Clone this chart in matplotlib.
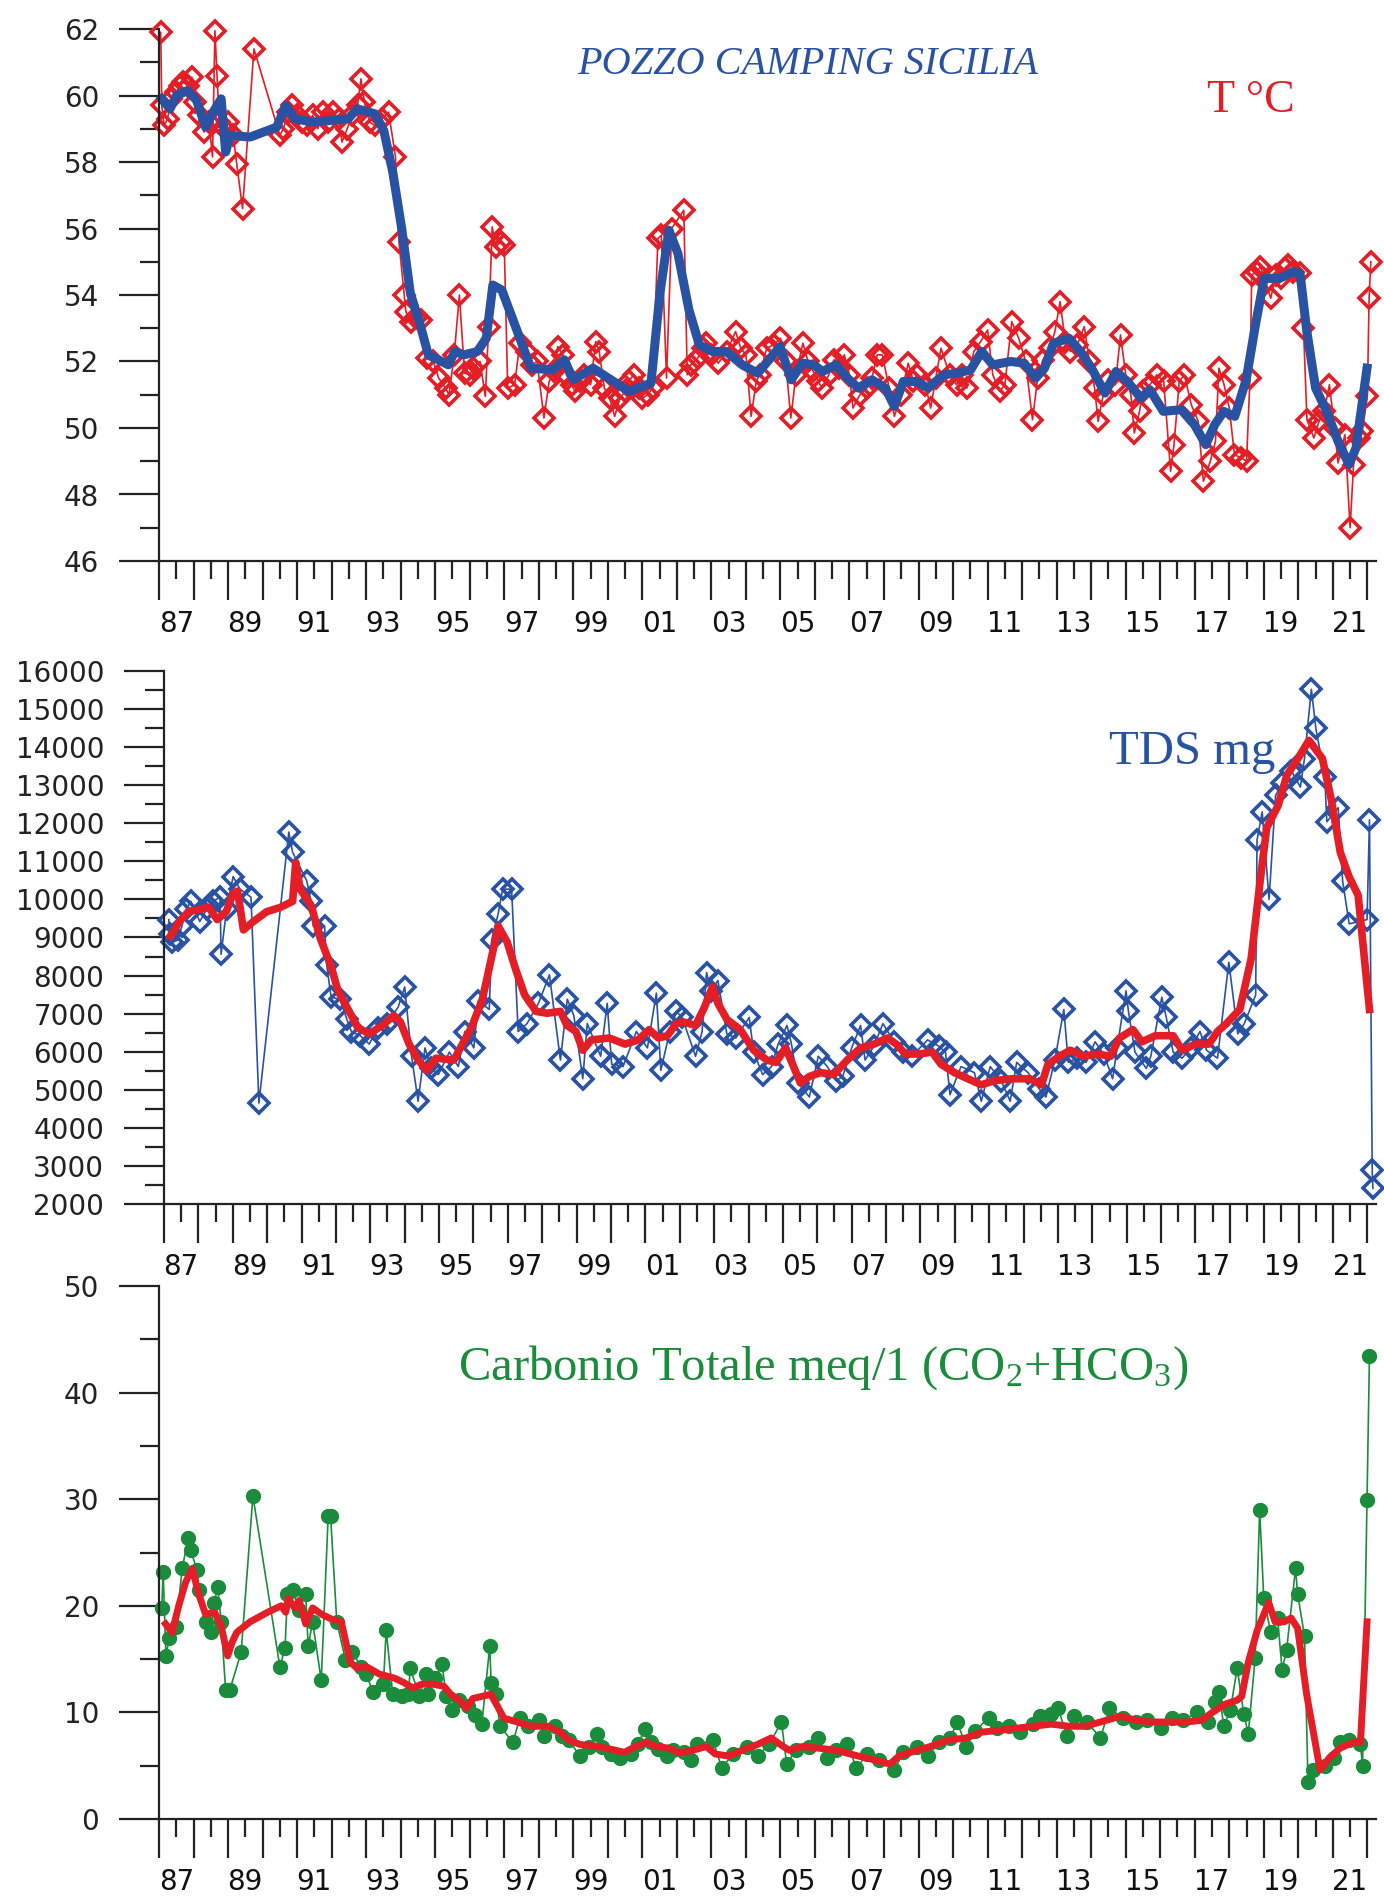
import matplotlib.pyplot as plt
from matplotlib.ticker import MultipleLocator

plt.rcParams['font.family'] = 'DejaVu Sans'
plt.rcParams['mathtext.fontset'] = 'custom'
plt.rcParams['mathtext.rm'] = 'Liberation Serif'
plt.rcParams['mathtext.it'] = 'Liberation Serif:italic'

RED = '#e41e26'
BLUE = '#2a52a3'
GREEN = '#1a8c3c'

# --- Temperatura (T °C) ---
t_years = [1987.05, 1987.08, 1987.15, 1987.25, 1987.35, 1987.5, 1987.6, 1987.7, 1987.83, 1987.95,
           1988.05, 1988.15, 1988.3, 1988.45, 1988.55, 1988.62, 1988.68, 1988.75, 1988.9, 1989.0,
           1989.15, 1989.25, 1989.42, 1989.75, 1990.5, 1990.6, 1990.75, 1990.85, 1991.0, 1991.15,
           1991.3, 1991.45, 1991.6, 1991.75, 1991.9, 1992.05, 1992.2, 1992.3, 1992.45, 1992.6,
           1992.75, 1992.85, 1992.95, 1993.1, 1993.25, 1993.45, 1993.65, 1993.85, 1993.95, 1994.1,
           1994.15, 1994.3, 1994.45, 1994.6, 1994.75, 1994.95, 1995.1, 1995.3, 1995.4, 1995.55,
           1995.7, 1995.85, 1996.0, 1996.1, 1996.3, 1996.45, 1996.55, 1996.65, 1996.75, 1996.9,
           1997.0, 1997.1, 1997.3, 1997.45, 1997.65, 1997.8, 1997.95, 1998.15, 1998.3, 1998.45,
           1998.55, 1998.7, 1998.8, 1998.95, 1999.05, 1999.2, 1999.3, 1999.5, 1999.65, 1999.75,
           1999.9, 2000.05, 2000.2, 2000.35, 2000.5, 2000.6, 2000.75, 2000.9, 2001.0, 2001.15,
           2001.3, 2001.45, 2001.55, 2001.7, 2001.85, 2002.2, 2002.3, 2002.4, 2002.6, 2002.75,
           2002.85, 2003.0, 2003.2, 2003.45, 2003.7, 2003.85, 2004.0, 2004.15, 2004.3, 2004.4,
           2004.6, 2004.8, 2005.0, 2005.15, 2005.3, 2005.45, 2005.65, 2005.8, 2005.95, 2006.1,
           2006.2, 2006.4, 2006.55, 2006.7, 2006.85, 2007.0, 2007.1, 2007.3, 2007.5, 2007.65,
           2007.8, 2007.95, 2008.15, 2008.3, 2008.5, 2008.7, 2008.85, 2008.95, 2009.2, 2009.35,
           2009.5, 2009.65, 2009.9, 2010.1, 2010.25, 2010.4, 2010.6, 2010.8, 2011.0, 2011.15,
           2011.35, 2011.5, 2011.7, 2011.9, 2012.1, 2012.3, 2012.45, 2012.6, 2012.8, 2012.95,
           2013.1, 2013.25, 2013.4, 2013.6, 2013.8, 2013.95, 2014.1, 2014.2, 2014.35, 2014.5,
           2014.7, 2014.85, 2015.0, 2015.15, 2015.25, 2015.4, 2015.5, 2015.7, 2015.9, 2016.1,
           2016.3, 2016.4, 2016.55, 2016.7, 2016.9, 2017.1, 2017.25, 2017.45, 2017.6, 2017.7,
           2017.85, 2018.0, 2018.15, 2018.35, 2018.5, 2018.6, 2018.65, 2018.8, 2018.9, 2019.05,
           2019.2, 2019.35, 2019.5, 2019.6, 2019.7, 2019.85, 2020.05, 2020.15, 2020.25, 2020.45,
           2020.6, 2020.75, 2020.9, 2021.05, 2021.15, 2021.35, 2021.5, 2021.6, 2021.75, 2021.85,
           2022.0, 2022.05, 2022.1]
t_vals = [61.9, 59.7, 59.1, 59.3, 59.9, 60.1, 60.3, 60.4, 60.3, 60.55,
          59.8, 59.4, 58.9, 59.2, 58.15, 61.95, 60.6, 59.2, 59.0, 59.2,
          58.8, 57.95, 56.6, 61.4, 58.8, 59.0, 59.5, 59.7, 59.4, 59.2,
          59.1, 59.4, 59.0, 59.5, 59.2, 59.5, 59.3, 58.6, 59.0, 59.4,
          59.7, 60.5, 59.8, 59.2, 59.1, 59.3, 59.5, 58.15, 55.6, 54.0,
          53.5, 53.2, 53.3, 53.25, 52.1, 52.0, 51.5, 51.2, 51.0, 52.2,
          54.0, 51.65, 51.6, 51.8, 52.0, 50.95, 53.05, 56.05, 55.45, 55.6,
          55.5, 51.2, 51.3, 52.55, 52.3, 51.9, 52.0, 50.3, 51.4, 51.7,
          52.45, 52.2, 51.6, 51.3, 51.1, 51.4, 51.6, 51.3, 52.6, 52.3,
          51.2, 50.9, 50.35, 50.9, 51.1, 51.4, 51.6, 51.2, 50.9, 51.0,
          51.2, 55.7, 55.8, 51.5, 56.0, 56.55, 51.6, 51.9, 52.1, 52.4,
          52.55, 52.2, 51.95, 52.3, 52.9, 52.4, 52.2, 50.35, 51.4, 51.6,
          52.4, 52.5, 52.7, 52.0, 50.3, 51.6, 52.55, 52.0, 51.7, 51.4,
          51.2, 51.6, 52.05, 51.8, 52.2, 51.6, 50.6, 51.0, 51.2, 51.5,
          52.2, 52.2, 51.2, 50.35, 51.0, 51.95, 51.4, 51.6, 51.3, 50.6,
          51.5, 52.4, 51.6, 51.3, 51.6, 51.2, 52.3, 52.6, 52.95, 51.6,
          51.1, 51.3, 53.2, 52.7, 52.0, 50.25, 51.5, 52.05, 52.4, 52.9,
          53.8, 52.6, 52.3, 52.5, 53.05, 52.0, 51.2, 50.2, 51.0, 51.45,
          51.3, 52.8, 51.6, 51.0, 49.85, 50.5, 51.1, 51.3, 51.6, 51.4,
          48.7, 49.5, 51.4, 51.6, 50.7, 50.2, 48.4, 49.0, 49.6, 51.8,
          51.3, 50.6, 49.2, 49.1, 49.0, 51.5, 54.6, 54.7, 54.85, 54.4,
          53.9, 54.6, 54.5, 54.8, 54.9, 54.7, 54.65, 53.0, 50.25, 49.7,
          50.2, 50.5, 51.3, 50.0, 48.95, 49.8, 47.0, 48.9, 49.7, 49.9,
          50.95, 53.9, 55.0]

t_smooth_years = [1987.08, 1987.32, 1987.51, 1987.83, 1988.09, 1988.35, 1988.54, 1988.8, 1988.93, 1989.06,
                  1989.64, 1990.41, 1990.67, 1990.93, 1991.45, 1992.48, 1992.74, 1993.25, 1993.51, 1993.77,
                  1994.03, 1994.28, 1994.54, 1994.8, 1995.38, 1995.57, 1995.83, 1996.22, 1996.48, 1996.67,
                  1996.93, 1997.38, 1997.77, 1998.41, 1998.74, 1999.0, 1999.57, 2000.09, 2000.61, 2001.25,
                  2001.51, 2001.77, 2002.03, 2002.35, 2002.65, 2003.04, 2003.43, 2003.89, 2004.34, 2004.67,
                  2004.99, 2005.31, 2005.64, 2005.96, 2006.22, 2006.61, 2006.94, 2007.26, 2007.65, 2008.04,
                  2008.3, 2008.56, 2008.95, 2009.27, 2009.73, 2010.12, 2010.51, 2010.83, 2011.15, 2011.67,
                  2012.06, 2012.39, 2012.65, 2012.91, 2013.36, 2013.69, 2014.01, 2014.4, 2014.72, 2015.05,
                  2015.44, 2015.7, 2016.09, 2016.61, 2016.99, 2017.32, 2017.58, 2017.84, 2018.16, 2018.49,
                  2018.75, 2019.01, 2019.46, 2019.85, 2020.05, 2020.24, 2020.5, 2020.82, 2021.15, 2021.47,
                  2021.67, 2021.99]
t_smooth_vals = [59.9, 59.6, 60.0, 60.15, 59.85, 59.05, 59.45, 59.9, 58.3, 58.8,
                 58.75, 59.05, 59.7, 59.3, 59.2, 59.3, 59.6, 59.45, 58.95, 57.7,
                 56.0, 54.05, 53.2, 52.2, 51.9, 52.3, 52.2, 52.3, 52.7, 54.3,
                 54.15, 52.9, 51.8, 51.75, 52.05, 51.45, 51.8, 51.45, 51.1, 51.35,
                 54.05, 55.95, 55.25, 53.55, 52.5, 52.3, 52.3, 51.9, 51.65, 52.05,
                 52.45, 51.45, 51.95, 51.9, 51.7, 51.9, 51.5, 51.2, 51.45, 51.2,
                 50.65, 51.4, 51.4, 51.2, 51.6, 51.65, 51.75, 52.3, 51.9, 52.0,
                 51.95, 51.5, 51.8, 52.55, 52.7, 52.3, 51.8, 51.05, 51.7, 51.4,
                 50.9, 51.15, 50.5, 50.55, 50.1, 49.5, 50.1, 50.5, 50.35, 51.45,
                 53.05, 54.5, 54.5, 54.7, 54.65, 52.95, 51.2, 50.5, 49.6, 48.9,
                 49.4, 51.8]

# --- TDS mg/l ---
tds_years = [1987.14, 1987.16, 1987.24, 1987.4, 1987.52, 1987.65, 1987.78, 1988.04, 1988.24, 1988.43,
             1988.63, 1988.66, 1988.82, 1989.01, 1989.21, 1989.53, 1989.76, 1990.63, 1990.74, 1991.15,
             1991.28, 1991.34, 1991.67, 1991.73, 1991.86, 1992.12, 1992.32, 1992.45, 1992.71, 1992.97,
             1993.22, 1993.48, 1993.81, 1994.0, 1994.2, 1994.39, 1994.59, 1994.78, 1994.98, 1995.3,
             1995.56, 1995.75, 1996.01, 1996.14, 1996.46, 1996.53, 1996.72, 1996.85, 1997.11, 1997.3,
             1997.56, 1997.89, 1998.21, 1998.53, 1998.73, 1998.92, 1999.18, 1999.31, 1999.7, 1999.89,
             2000.02, 2000.35, 2000.74, 2001.06, 2001.32, 2001.45, 2001.71, 2001.9, 2002.07, 2002.46,
             2002.65, 2002.78, 2002.91, 2003.11, 2003.37, 2003.63, 2004.02, 2004.15, 2004.41, 2004.67,
             2004.86, 2005.12, 2005.25, 2005.44, 2005.77, 2006.03, 2006.29, 2006.55, 2006.74, 2007.0,
             2007.26, 2007.39, 2007.65, 2007.91, 2008.23, 2008.49, 2008.75, 2009.21, 2009.53, 2009.73,
             2009.86, 2010.18, 2010.57, 2010.77, 2011.03, 2011.35, 2011.61, 2011.8, 2012.13, 2012.45,
             2012.65, 2012.91, 2013.17, 2013.3, 2013.56, 2013.82, 2014.08, 2014.33, 2014.59, 2014.72,
             2014.98, 2015.05, 2015.24, 2015.57, 2015.7, 2016.02, 2016.15, 2016.35, 2016.61, 2016.87,
             2017.13, 2017.32, 2017.64, 2017.97, 2018.23, 2018.42, 2018.75, 2018.79, 2018.94, 2019.14,
             2019.33, 2019.53, 2019.79, 2020.05, 2020.17, 2020.37, 2020.5, 2020.76, 2020.82, 2021.15,
             2021.28, 2021.47, 2021.99, 2022.06, 2022.14, 2022.16]
tds_vals = [9470, 9100, 8880, 8930, 9300, 9740, 9950, 9420, 9740, 9950,
            10060, 8560, 9740, 10600, 10270, 10060, 4650, 11770, 11240, 10490,
            9950, 9300, 9300, 8290, 7430, 7380, 6850, 6530, 6420, 6200,
            6630, 6740, 7170, 7700, 5880, 4700, 6100, 5560, 5400, 5990,
            5610, 6530, 6100, 7330, 7110, 8930, 9630, 10270, 10270, 6530,
            6740, 7270, 8020, 5780, 7380, 6950, 5290, 6740, 5880, 7270,
            5670, 5610, 6530, 6100, 7540, 5510, 6530, 7060, 6900, 5880,
            6530, 8080, 7600, 7870, 6470, 6360, 6900, 5990, 5400, 5610,
            6200, 6690, 6200, 5180, 4810, 5880, 5610, 5240, 5350, 6100,
            6690, 5780, 6150, 6740, 6260, 5990, 5880, 6310, 6150, 5990,
            4870, 5610, 5450, 4700, 5610, 5240, 4700, 5720, 5450, 5030,
            4810, 5780, 7110, 5720, 5830, 5720, 6260, 5940, 5290, 6100,
            7600, 7060, 5990, 5560, 5880, 7430, 6900, 5990, 5830, 6100,
            6530, 6040, 5830, 8350, 6470, 6740, 7490, 11560, 12300, 10000,
            12730, 13050, 13380, 12950, 13700, 15520, 14500, 13220, 12040, 12410,
            10480, 9360, 9470, 12090, 2890, 2410]

tds_smooth_years = [1987.19, 1987.45, 1987.71, 1988.04, 1988.3, 1988.55, 1988.81, 1989.01, 1989.14, 1989.31,
                    1989.6, 1989.99, 1990.38, 1990.74, 1990.83, 1990.96, 1991.28, 1991.54, 1991.86, 1992.06,
                    1992.32, 1992.64, 1992.97, 1993.35, 1993.68, 1993.87, 1994.13, 1994.39, 1994.65, 1994.91,
                    1995.43, 1995.68, 1995.94, 1996.26, 1996.52, 1996.72, 1996.98, 1997.24, 1997.49, 1997.82,
                    1998.14, 1998.53, 1998.72, 1998.98, 1999.18, 1999.43, 1999.95, 2000.41, 2000.79, 2001.11,
                    2001.38, 2001.64, 2001.9, 2002.07, 2002.46, 2002.72, 2002.95, 2003.11, 2003.37, 2003.76,
                    2004.15, 2004.54, 2004.8, 2005.08, 2005.31, 2005.51, 2005.77, 2006.09, 2006.48, 2006.87,
                    2007.26, 2007.65, 2008.04, 2008.3, 2008.56, 2008.95, 2009.34, 2009.6, 2009.99, 2010.38,
                    2010.77, 2011.15, 2011.67, 2012.19, 2012.52, 2012.71, 2013.04, 2013.36, 2013.75, 2014.14,
                    2014.53, 2014.79, 2015.18, 2015.44, 2015.83, 2016.35, 2016.61, 2017.0, 2017.39, 2017.64,
                    2017.9, 2018.29, 2018.62, 2018.88, 2019.07, 2019.4, 2019.66, 2019.98, 2020.3, 2020.69,
                    2020.95, 2021.21, 2021.47, 2021.73, 2022.06]
tds_smooth_vals = [9040, 9420, 9680, 9740, 9790, 9470, 9680, 10160, 10220, 9200,
                   9420, 9680, 9790, 9950, 10970, 10270, 9840, 8990, 8240, 7600,
                   7170, 6630, 6470, 6690, 6950, 6790, 6200, 5780, 5510, 5830,
                   5780, 6200, 6630, 7380, 8450, 9300, 8880, 8130, 7490, 7060,
                   7010, 7060, 6690, 6530, 6040, 6310, 6360, 6200, 6310, 6580,
                   6360, 6420, 6740, 6790, 6690, 7170, 7700, 7270, 6850, 6580,
                   6040, 5780, 5720, 6100, 5610, 5180, 5350, 5450, 5400, 5780,
                   6100, 6200, 6360, 6200, 5940, 5940, 5990, 5670, 5450, 5290,
                   5130, 5240, 5290, 5290, 5130, 5670, 5880, 6040, 5880, 5940,
                   5880, 6360, 6580, 6260, 6420, 6420, 6040, 6200, 6200, 6530,
                   6740, 7110, 8450, 10480, 11880, 12460, 13270, 13700, 14180, 13700,
                   12620, 11240, 10590, 10110, 7110]

# --- Carbonio totale meq/l ---
c_years = [1987.08, 1987.12, 1987.2, 1987.3, 1987.5, 1987.67, 1987.85, 1987.92, 1988.1, 1988.15,
           1988.35, 1988.5, 1988.6, 1988.7, 1988.8, 1988.93, 1989.05, 1989.38, 1989.72, 1990.5,
           1990.65, 1990.72, 1990.87, 1991.05, 1991.25, 1991.32, 1991.45, 1991.7, 1991.9, 1991.97,
           1992.15, 1992.4, 1992.6, 1992.85, 1993.0, 1993.2, 1993.5, 1993.58, 1993.77, 1994.03,
           1994.22, 1994.28, 1994.54, 1994.73, 1994.8, 1995.0, 1995.2, 1995.32, 1995.5, 1995.7,
           1995.96, 1996.15, 1996.35, 1996.58, 1996.62, 1996.75, 1996.88, 1997.25, 1997.45, 1997.7,
           1998.0, 1998.15, 1998.48, 1998.67, 1998.87, 1999.19, 1999.45, 1999.7, 1999.83, 2000.1,
           2000.35, 2000.67, 2000.86, 2001.08, 2001.25, 2001.44, 2001.7, 2001.9, 2002.2, 2002.4,
           2002.59, 2003.04, 2003.3, 2003.63, 2004.02, 2004.34, 2004.67, 2005.03, 2005.18, 2005.44,
           2005.83, 2006.09, 2006.35, 2006.61, 2006.94, 2007.2, 2007.52, 2007.85, 2008.3, 2008.56,
           2008.95, 2009.27, 2009.6, 2009.92, 2010.12, 2010.38, 2010.64, 2011.03, 2011.28, 2011.61,
           2011.93, 2012.32, 2012.52, 2012.84, 2013.04, 2013.3, 2013.49, 2013.88, 2014.27, 2014.53,
           2014.92, 2015.31, 2015.63, 2016.02, 2016.35, 2016.67, 2017.06, 2017.38, 2017.58, 2017.71,
           2017.84, 2018.03, 2018.23, 2018.42, 2018.55, 2018.75, 2018.88, 2019.0, 2019.2, 2019.4,
           2019.53, 2019.66, 2019.92, 2019.98, 2020.18, 2020.28, 2020.43, 2020.76, 2021.02, 2021.21,
           2021.47, 2021.8, 2021.86, 2021.99, 2022.06]
c_vals = [19.8, 23.2, 15.3, 17.0, 18.0, 23.5, 26.4, 25.2, 23.35, 21.5,
          18.5, 17.5, 20.3, 21.8, 18.5, 12.1, 12.1, 15.65, 30.3, 14.3,
          16.0, 21.1, 21.5, 19.6, 21.1, 16.2, 18.5, 13.0, 28.4, 28.4,
          18.5, 14.9, 15.65, 14.3, 13.6, 11.9, 12.65, 17.7, 11.7, 11.5,
          11.7, 14.15, 11.5, 13.6, 11.7, 13.2, 14.5, 11.5, 10.2, 11.15,
          10.6, 9.8, 8.9, 16.2, 12.8, 11.7, 8.7, 7.2, 9.45, 8.7,
          9.25, 7.8, 8.7, 7.8, 7.4, 5.9, 6.8, 8.0, 6.8, 6.1,
          5.7, 6.1, 7.0, 8.4, 7.2, 6.6, 5.9, 6.45, 6.3, 5.5,
          7.0, 7.4, 4.8, 6.1, 6.8, 5.9, 7.0, 9.1, 5.15, 6.45,
          6.8, 7.6, 5.7, 6.45, 7.0, 4.8, 6.1, 5.5, 4.6, 6.3,
          6.8, 5.9, 7.2, 7.6, 9.1, 6.8, 8.3, 9.45, 8.5, 8.7,
          8.15, 8.9, 9.65, 9.85, 10.4, 7.8, 9.65, 9.1, 7.6, 10.4,
          9.45, 9.1, 9.25, 8.5, 9.45, 9.25, 10.0, 9.1, 10.95, 11.9,
          8.7, 10.2, 14.15, 9.85, 8.0, 15.1, 29.0, 20.7, 17.5, 18.85,
          14.0, 15.85, 23.5, 21.1, 17.15, 3.45, 4.6, 5.0, 5.7, 7.2,
          7.4, 7.0, 5.0, 29.9, 43.4]

c_smooth_years = [1987.19, 1987.38, 1987.57, 1987.77, 1987.96, 1988.15, 1988.35, 1988.61, 1988.8, 1988.99,
                  1989.12, 1989.25, 1989.64, 1990.15, 1990.54, 1990.67, 1990.74, 1990.93, 1991.06, 1991.25,
                  1991.45, 1991.71, 1992.03, 1992.28, 1992.54, 1992.74, 1993.0, 1993.38, 1993.83, 1994.09,
                  1994.35, 1994.61, 1994.93, 1995.25, 1995.45, 1995.7, 1995.9, 1996.09, 1996.35, 1996.61,
                  1996.8, 1996.99, 1997.38, 1997.76, 1998.28, 1998.61, 1998.86, 1999.19, 1999.7, 2000.22,
                  2000.48, 2000.8, 2001.12, 2001.38, 2001.77, 2002.07, 2002.46, 2002.85, 2003.11, 2003.5,
                  2003.89, 2004.34, 2004.73, 2004.99, 2005.25, 2005.64, 2006.09, 2006.61, 2007.26, 2007.78,
                  2008.17, 2008.43, 2008.82, 2009.34, 2009.86, 2010.38, 2010.83, 2011.29, 2011.8, 2012.32,
                  2012.84, 2013.36, 2013.82, 2014.27, 2014.85, 2015.31, 2015.7, 2016.22, 2016.74, 2017.19,
                  2017.51, 2017.9, 2018.23, 2018.36, 2018.55, 2018.81, 2019.14, 2019.33, 2019.59, 2019.79,
                  2019.98, 2020.24, 2020.63, 2020.89, 2021.21, 2021.6, 2021.8, 2021.99]
c_smooth_vals = [18.3, 17.5, 20.0, 22.2, 23.5, 21.1, 19.2, 19.4, 18.1, 15.3,
                 16.6, 17.5, 18.5, 19.4, 20.0, 19.4, 20.7, 19.8, 20.5, 18.3,
                 19.8, 19.2, 18.7, 18.5, 14.7, 14.15, 14.3, 13.6, 13.2, 12.8,
                 12.3, 12.65, 12.65, 12.45, 11.7, 11.15, 10.4, 11.3, 11.5, 11.7,
                 10.6, 9.45, 9.1, 8.7, 8.7, 8.15, 7.4, 7.0, 6.8, 6.45,
                 6.25, 6.8, 7.2, 6.8, 6.65, 6.2, 6.45, 6.8, 6.1, 5.9,
                 6.45, 7.0, 7.6, 7.0, 6.45, 6.8, 6.65, 6.45, 5.9, 5.5,
                 5.15, 5.9, 6.3, 6.8, 7.4, 7.6, 8.15, 8.3, 8.5, 8.7,
                 8.9, 8.7, 8.7, 9.1, 9.65, 9.25, 9.1, 9.1, 9.1, 9.25,
                 10.0, 10.8, 11.15, 11.5, 14.7, 17.7, 20.3, 18.5, 18.5, 18.85,
                 17.9, 11.7, 4.6, 5.7, 6.65, 7.2, 7.2, 18.5]

W, H = 1384, 1897
fig = plt.figure(figsize=(W / 100, H / 100), dpi=100)


def make_axes(left_px, top_px, bottom_px, x0):
    ax = fig.add_axes([left_px / W, 1 - bottom_px / H, (1376 - left_px) / W, (bottom_px - top_px) / H])
    ax.set_xlim(x0, 2022.25)
    for s in ('top', 'right'):
        ax.spines[s].set_visible(False)
    for s in ('left', 'bottom'):
        ax.spines[s].set_linewidth(1.6)
        ax.spines[s].set_color('#222222')
    years = list(range(1987, 2023))
    ax.set_xticks(years, labels=[''] * len(years))
    halves = [y + 0.5 for y in range(1987, 2022)]
    labs = ['%02d' % (y % 100) if y % 2 == 1 else '' for y in range(1987, 2022)]
    ax.set_xticks(halves, labels=labs, minor=True)
    ax.tick_params(axis='x', which='major', length=28, width=1.6, color='#222222')
    ax.tick_params(axis='x', which='minor', length=13, width=1.6, color='#222222',
                   pad=22, labelsize=20, labelcolor='#111111')
    ax.tick_params(axis='y', which='major', length=29, width=1.6, color='#222222',
                   pad=14, labelsize=20, labelcolor='#222222')
    ax.tick_params(axis='y', which='minor', length=14, width=1.6, color='#222222')
    return ax


# pannello 1: temperatura
ax1 = make_axes(159, 29, 561, 1987)
ax1.set_ylim(46, 62)
ax1.yaxis.set_major_locator(MultipleLocator(2))
ax1.yaxis.set_minor_locator(MultipleLocator(1))
ax1.plot(t_years, t_vals, color=RED, lw=1.2, marker='D', ms=10.5, mfc='none', mec=RED, mew=2.6, clip_on=False)
ax1.plot(t_smooth_years, t_smooth_vals, color=BLUE, lw=6.5, solid_joinstyle='round', clip_on=False)

# pannello 2: TDS
ax2 = make_axes(164, 671, 1204, 1987.12)
ax2.set_ylim(2000, 16000)
ax2.yaxis.set_major_locator(MultipleLocator(1000))
ax2.yaxis.set_minor_locator(MultipleLocator(500))
ax2.plot(tds_years, tds_vals, color=BLUE, lw=1.2, marker='D', ms=10.5, mfc='none', mec=BLUE, mew=2.6, clip_on=False)
ax2.plot(tds_smooth_years, tds_smooth_vals, color=RED, lw=5.5, solid_joinstyle='round', clip_on=False)

# pannello 3: carbonio totale
ax3 = make_axes(159, 1286, 1819, 1987)
ax3.set_ylim(0, 50)
ax3.yaxis.set_major_locator(MultipleLocator(10))
ax3.yaxis.set_minor_locator(MultipleLocator(5))
ax3.plot(c_years, c_vals, color=GREEN, lw=1.2, marker='o', ms=10, mfc=GREEN, mec=GREEN, clip_on=False)
ax3.plot(c_smooth_years, c_smooth_vals, color=RED, lw=5, solid_joinstyle='round', clip_on=False)

serif = 'Liberation Serif'
fig.text(808 / W, 1 - 74 / H, 'POZZO CAMPING SICILIA', color=BLUE, family=serif, style='italic',
         fontsize=29, ha='center', va='baseline')
fig.text(1251 / W, 1 - 112 / H, 'T °C', color=RED, family=serif, fontsize=33, ha='center', va='baseline')
fig.text(1109 / W, 1 - 764 / H, 'TDS mg', color=BLUE, family=serif, fontsize=35, ha='left', va='baseline')
fig.text(458 / W, 1 - 1380 / H, r'Carbonio Totale meq/1 (CO$_2$+HCO$_3$)', color=GREEN, family=serif,
         fontsize=35, ha='left', va='baseline')

fig.savefig('out.png', dpi=100)
